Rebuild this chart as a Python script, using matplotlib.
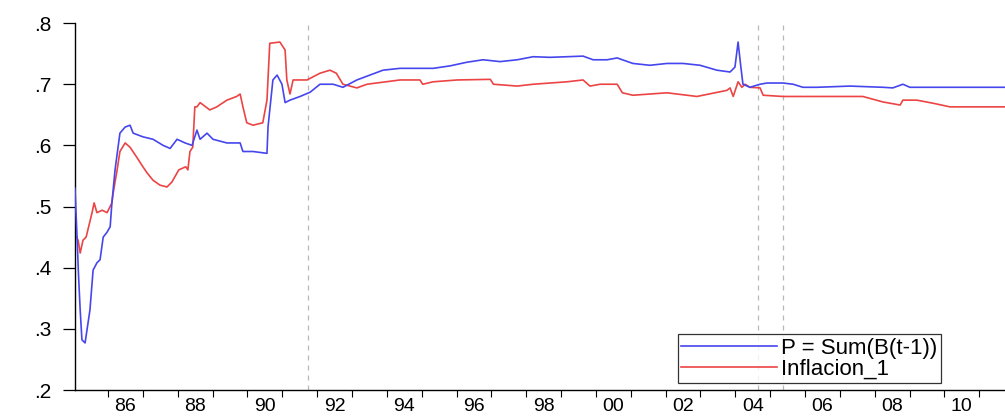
import matplotlib
matplotlib.use('Agg')
import matplotlib.pyplot as plt
import numpy as np
from matplotlib.ticker import FixedLocator, MultipleLocator

# valores (fecha en años decimales)
p_fecha = [1985.05, 1985.08, 1985.11, 1985.15, 1985.20, 1985.25, 1985.34, 1985.48, 1985.57,
           1985.68, 1985.77, 1985.86, 1985.97, 1986.06, 1986.11, 1986.20, 1986.34, 1986.49,
           1986.63, 1986.72, 1987.00, 1987.29, 1987.58, 1987.78, 1987.98, 1988.21, 1988.41,
           1988.55, 1988.64, 1988.84, 1989.01, 1989.41, 1989.79, 1989.87, 1990.16, 1990.56,
           1990.59, 1990.73, 1990.85, 1990.99, 1991.08, 1991.22, 1991.51, 1991.80, 1992.08,
           1992.46, 1992.74, 1993.14, 1993.89, 1994.38, 1994.87, 1995.33, 1995.81, 1996.30,
           1996.76, 1997.25, 1997.74, 1998.20, 1998.68, 1999.17, 1999.63, 1999.92, 2000.32,
           2000.61, 2001.06, 2001.55, 2002.04, 2002.50, 2002.99, 2003.47, 2003.85, 2003.99,
           2004.08, 2004.16, 2004.22, 2004.42, 2004.71, 2004.91, 2005.37, 2005.66, 2005.94,
           2006.34, 2007.29, 2008.24, 2008.52, 2008.81, 2009.01, 2010.16, 2011.74]
p_valor = [0.530, 0.490, 0.450, 0.390, 0.330, 0.282, 0.277, 0.331, 0.396,
           0.408, 0.413, 0.450, 0.458, 0.467, 0.506, 0.560, 0.620, 0.630,
           0.633, 0.620, 0.614, 0.610, 0.600, 0.595, 0.610, 0.604, 0.600,
           0.625, 0.610, 0.620, 0.610, 0.604, 0.604, 0.590, 0.590, 0.587,
           0.630, 0.707, 0.715, 0.700, 0.670, 0.674, 0.680, 0.687, 0.700,
           0.700, 0.695, 0.707, 0.723, 0.726, 0.726, 0.726, 0.730, 0.736,
           0.740, 0.737, 0.740, 0.745, 0.744, 0.745, 0.746, 0.740, 0.740,
           0.743, 0.734, 0.731, 0.734, 0.734, 0.731, 0.723, 0.720, 0.728,
           0.769, 0.728, 0.700, 0.695, 0.700, 0.702, 0.702, 0.700, 0.695,
           0.695, 0.697, 0.695, 0.694, 0.700, 0.695, 0.695, 0.695]

inf_fecha = [1985.05, 1985.14, 1985.20, 1985.28, 1985.37, 1985.54, 1985.60, 1985.68, 1985.83,
             1985.97, 1986.11, 1986.14, 1986.26, 1986.34, 1986.49, 1986.63, 1986.83, 1987.00,
             1987.12, 1987.29, 1987.49, 1987.69, 1987.83, 1988.03, 1988.23, 1988.29, 1988.35,
             1988.43, 1988.49, 1988.55, 1988.64, 1988.92, 1989.12, 1989.41, 1989.69, 1989.79,
             1989.87, 1989.98, 1990.16, 1990.44, 1990.56, 1990.64, 1990.93, 1991.08, 1991.13,
             1991.22, 1991.31, 1991.71, 1992.08, 1992.37, 1992.55, 1992.74, 1993.14, 1993.43,
             1994.38, 1994.95, 1995.03, 1995.33, 1996.02, 1996.97, 1997.06, 1997.74, 1998.20,
             1999.17, 1999.63, 1999.83, 2000.12, 2000.61, 2000.76, 2001.06, 2002.04, 2002.90,
             2003.07, 2003.76, 2003.85, 2003.94, 2004.08, 2004.19, 2004.28, 2004.42, 2004.71,
             2004.80, 2005.37, 2006.34, 2007.66, 2008.24, 2008.73, 2008.81, 2009.21, 2009.67,
             2010.16, 2011.74]
inf_valor = [0.454, 0.445, 0.424, 0.445, 0.450, 0.490, 0.506, 0.490, 0.494,
             0.490, 0.506, 0.520, 0.560, 0.590, 0.604, 0.597, 0.580, 0.565,
             0.555, 0.543, 0.535, 0.532, 0.540, 0.560, 0.565, 0.560, 0.590,
             0.597, 0.663, 0.663, 0.670, 0.658, 0.663, 0.674, 0.680, 0.684,
             0.663, 0.637, 0.633, 0.637, 0.674, 0.767, 0.769, 0.756, 0.707,
             0.684, 0.707, 0.707, 0.718, 0.723, 0.718, 0.700, 0.694, 0.700,
             0.707, 0.707, 0.700, 0.704, 0.707, 0.708, 0.700, 0.697, 0.700,
             0.704, 0.707, 0.697, 0.700, 0.700, 0.686, 0.682, 0.686, 0.680,
             0.682, 0.690, 0.694, 0.680, 0.704, 0.695, 0.700, 0.695, 0.694,
             0.682, 0.680, 0.680, 0.680, 0.671, 0.666, 0.674, 0.674, 0.669,
             0.663, 0.663]

cortes = [1991.74, 2004.65, 2005.37]
etiquetas_x = ['86', '88', '90', '92', '94', '96', '98', '00', '02', '04', '06', '08', '10']
anios_x = [1986, 1988, 1990, 1992, 1994, 1996, 1998, 2000, 2002, 2004, 2006, 2008, 2010]
etiquetas_y = ['.2', '.3', '.4', '.5', '.6', '.7', '.8']
valores_y = [0.2, 0.3, 0.4, 0.5, 0.6, 0.7, 0.8]

plt.rcParams['font.family'] = ['Liberation Sans', 'DejaVu Sans']

fig = plt.figure(figsize=(10.05, 4.19), dpi=100)
ax = fig.add_axes([0.0746, 0.0692, 0.9254, 0.8757])

for c in cortes:
    ax.axvline(c, color='#b8b8b8', lw=0.9, ls=(0, (4, 4)), zorder=1)

ax.plot(p_fecha, p_valor, color='#4646ee', lw=1.2, label='P = Sum(B(t-1))', zorder=3)
ax.plot(inf_fecha, inf_valor, color='#ec4444', lw=1.2, label='Inflacion_1', zorder=2)

ax.set_xlim(1985.05, 2011.74)
ax.set_ylim(0.2, 0.8)

for s in ['top', 'right']:
    ax.spines[s].set_visible(False)
ax.spines['left'].set_linewidth(1.0)
ax.spines['bottom'].set_linewidth(1.0)

# etiquetas centradas en el año, marcas en cada cambio de año
ax.xaxis.set_major_locator(FixedLocator([a + 0.5 for a in anios_x]))
ax.set_xticklabels(etiquetas_x)
ax.xaxis.set_minor_locator(MultipleLocator(1))
ax.tick_params(axis='x', which='major', length=0, pad=6, labelsize=14)
ax.tick_params(axis='x', which='minor', length=5, direction='out', width=0.8)

ax.set_yticks(valores_y)
ax.set_yticklabels(etiquetas_y)
ax.tick_params(axis='y', length=9, width=0.9, pad=8, labelsize=15)

leg = ax.legend(loc='lower left', bbox_to_anchor=(0.648, 0.019), fontsize=16,
                frameon=True, fancybox=False, edgecolor='black', handlelength=4.3,
                handletextpad=0.2, labelspacing=0.0, borderpad=0.15, borderaxespad=0)
leg.get_frame().set_linewidth(0.9)

fig.savefig('out.png', dpi=100)
